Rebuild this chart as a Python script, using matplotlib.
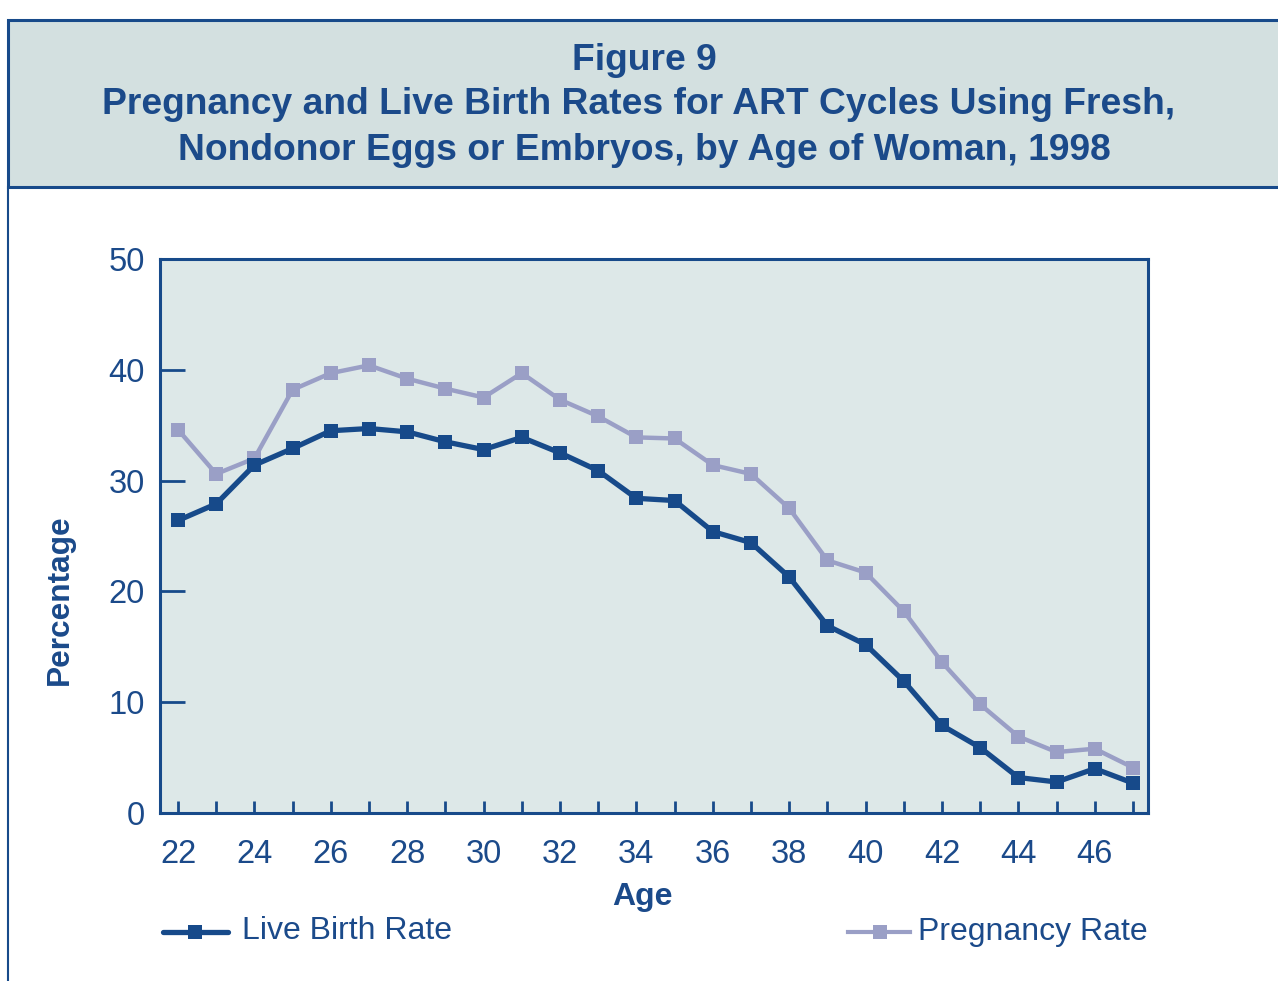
import matplotlib
matplotlib.use("Agg")
import matplotlib.pyplot as plt
from matplotlib.patches import Rectangle
from matplotlib.lines import Line2D

ages = list(range(22, 48))
live_birth = [26.4, 27.9, 31.4, 32.9, 34.5, 34.7, 34.4, 33.5, 32.8, 33.9, 32.5, 30.9, 28.4,
              28.2, 25.4, 24.4, 21.3, 16.9, 15.2, 11.9, 7.9, 5.9, 3.2, 2.8, 4.0, 2.7]
pregnancy = [34.6, 30.6, 32.0, 38.2, 39.7, 40.4, 39.2, 38.3, 37.5, 39.7, 37.3, 35.8, 33.9,
             33.8, 31.4, 30.6, 27.5, 22.8, 21.7, 18.2, 13.6, 9.8, 6.9, 5.5, 5.8, 4.1]
xtick_labels = [22, 24, 26, 28, 30, 32, 34, 36, 38, 40, 42, 44, 46]
yticks = [0, 10, 20, 30, 40, 50]

DARK = "#174a8a"
LIGHT = "#9a9fc6"
TEXT = "#1b4a8a"
AX_BG = "#dde8e8"
TITLE_BG = "#d3e0e0"

plt.rcParams['font.family'] = ['Liberation Sans', 'DejaVu Sans']

W, H = 1278, 981
fig = plt.figure(figsize=(W / 100, H / 100), dpi=100)
fig.patch.set_facecolor("white")

def fx(px):
    return px / W

def fy(py):
    return 1 - py / H

# title box
fig.patches.append(Rectangle((fx(8), fy(187)), fx(1290) - fx(8), fy(20) - fy(187),
                             transform=fig.transFigure, facecolor=TITLE_BG,
                             edgecolor=DARK, linewidth=2.2, zorder=0))
# left outer frame line
fig.add_artist(Line2D([fx(8), fx(8)], [fy(187), fy(985)], transform=fig.transFigure,
                      color=DARK, linewidth=1.5))

TS = 26.8
fig.text(0.504, fy(61), "Figure 9", ha="center", va="center", fontsize=TS,
         fontweight="bold", color=TEXT)
fig.text(0.5, fy(105), "Pregnancy and Live Birth Rates for ART Cycles Using Fresh,",
         ha="center", va="center", fontsize=TS, fontweight="bold", color=TEXT)
fig.text(0.504, fy(150), "Nondonor Eggs or Embryos, by Age of Woman, 1998",
         ha="center", va="center", fontsize=TS, fontweight="bold", color=TEXT)

L, R, T, B = 160, 1148, 259, 813
ax = fig.add_axes([fx(L), fy(B), fx(R) - fx(L), fy(T) - fy(B)])
ax.set_facecolor(AX_BG)

ax.plot(ages, pregnancy, color=LIGHT, linewidth=3.2, marker="s", markersize=9.5,
        markeredgewidth=0, label="Pregnancy Rate", zorder=3)
ax.plot(ages, live_birth, color=DARK, linewidth=3.8, marker="s", markersize=9.5,
        markeredgewidth=0, label="Live Birth Rate", zorder=4)

x0 = 22 - (178 - L) / 38.2
x1 = 47 + (R - 1133) / 38.2
ax.set_xlim(x0, x1)
ax.set_ylim(0, 50)

for s in ax.spines.values():
    s.set_color(DARK)
    s.set_linewidth(2.2)

ax.set_yticks(yticks)
ax.set_yticklabels([str(v) for v in yticks])
ax.tick_params(axis="y", direction="in", length=18, width=2, color=DARK,
               labelsize=23.5, labelcolor=TEXT, pad=11)
ax.set_xticks(ages, minor=False)
ax.set_xticklabels([str(a) if a in xtick_labels else "" for a in ages])
ax.tick_params(axis="x", direction="in", length=9, width=2, color=DARK,
               labelsize=23.5, labelcolor=TEXT, pad=19)

fig.text(fx(642), fy(897), "Age", ha="center", va="center", fontsize=23,
         fontweight="bold", color=TEXT)
fig.text(fx(60), fy(600), "Percentage", ha="center", va="center", fontsize=22.8,
         fontweight="bold", color=TEXT, rotation=90)

# legend entries
lax = fig.add_axes([0, 0, 1, 1], facecolor="none")
lax.set_xlim(0, W)
lax.set_ylim(H, 0)
lax.axis("off")
lax.plot([163, 228], [932, 932], color=DARK, linewidth=3.8, solid_capstyle="round")
lax.plot([195], [932], marker="s", markersize=9.5, color=DARK, markeredgewidth=0)
lax.text(242, 931, "Live Birth Rate", ha="left", va="center", fontsize=23, color=TEXT)
lax.plot([848, 910], [932, 932], color=LIGHT, linewidth=3.0)
lax.plot([880], [932], marker="s", markersize=9.5, color=LIGHT, markeredgewidth=0)
lax.text(918, 932, "Pregnancy Rate", ha="left", va="center", fontsize=23, color=TEXT)

fig.savefig("out.png", dpi=100, facecolor="white")
